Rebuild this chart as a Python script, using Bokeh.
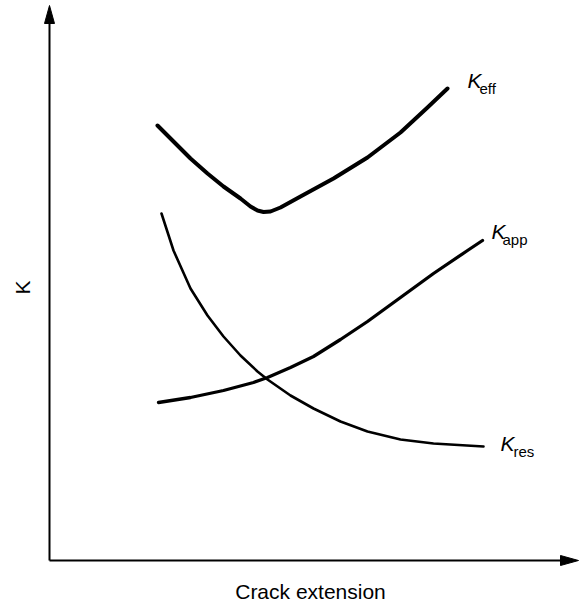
from math import pi

from bokeh.embed import file_html
from bokeh.models import Label, Range1d
from bokeh.plotting import figure
from bokeh.resources import INLINE

# Schematic K versus crack extension (arbitrary units, origin at the axis corner)
x_eff = [108, 124, 141, 158, 174, 191, 201, 208, 214, 221, 231, 251, 284, 318, 351, 378, 398]
k_eff = [435, 419, 402, 387, 374, 362, 354, 350, 348.5, 349, 353, 364, 382, 403, 428, 453, 472]

x_app = [109, 141, 174, 204, 218, 241, 264, 291, 318, 351, 384, 418, 433]
k_app = [158, 163, 170, 178, 183, 193, 204, 221, 239, 263, 287, 310, 320]

x_res = [112, 124, 141, 158, 174, 191, 208, 218, 241, 264, 291, 318, 351, 384, 434]
k_res = [347, 310, 272, 245, 224, 205, 189, 181, 165, 152, 139, 129, 121, 117, 114]

x_label = "Crack extension"
y_label = "K"
curve_names = [("K", "eff"), ("K", "app"), ("K", "res")]

W, H = 584, 603
p = figure(width=W, height=H, output_backend="svg", toolbar_location=None,
           x_axis_type=None, y_axis_type=None, min_border=0,
           x_range=Range1d(-49, W - 49), y_range=Range1d(-43, H - 43))
p.grid.visible = False
p.outline_line_color = None
p.background_fill_color = "white"
p.border_fill_color = "white"

ink = "#000000"

# axes with arrow heads
p.segment(x0=[0, 0], y0=[0, 0], x1=[0, 515], y1=[540, 0], line_color=ink, line_width=2)
p.patch(x=[-5, 0, 5], y=[537, 555, 537], fill_color=ink, line_color=ink)
p.patch(x=[511, 529, 511], y=[5, 0, -5], fill_color=ink, line_color=ink)

# curves
p.line(x_eff, k_eff, line_color=ink, line_width=4, line_cap="round", line_join="round")
p.line(x_app, k_app, line_color=ink, line_width=3.3, line_cap="round", line_join="round")
p.line(x_res, k_res, line_color=ink, line_width=2.6, line_cap="round", line_join="round")

font = "Liberation Sans"


def curve_label(x, y, main, sub, sub_dx):
    p.add_layout(Label(x=x, y=y, text=main, text_font=font, text_font_size="21px",
                       text_font_style="italic", text_color=ink,
                       text_baseline="middle", text_align="left"))
    p.add_layout(Label(x=x + sub_dx, y=y - 8, text=sub, text_font=font, text_font_size="15px",
                       text_color=ink, text_baseline="middle", text_align="left"))


curve_label(418, 480, *curve_names[0], 12)
curve_label(442, 329.5, *curve_names[1], 11)
curve_label(451, 117.5, *curve_names[2], 13)

# axis titles
p.add_layout(Label(x=261, y=-30.5, text=x_label, text_font=font, text_font_size="21px",
                   text_color=ink, text_baseline="middle", text_align="center"))
p.add_layout(Label(x=-27.5, y=273, text=y_label, text_font=font, text_font_size="21px",
                   text_color=ink, angle=pi / 2, text_baseline="middle", text_align="center"))

open("out.html", "w").write(file_html(p, INLINE))
